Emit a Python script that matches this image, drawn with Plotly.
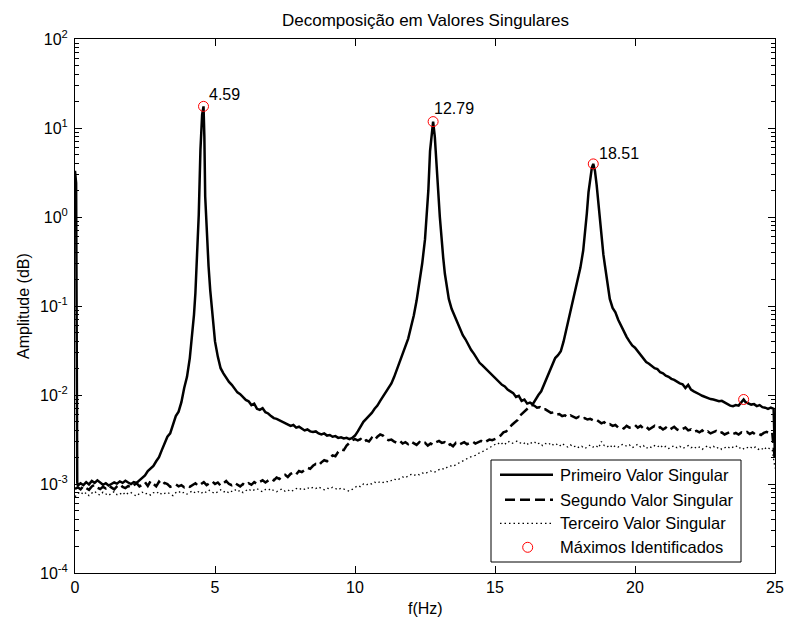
import math
import plotly.graph_objects as go

# ---------------- data ----------------
# Primeiro valor singular (solid)
f1 = [0.0, 0.04, 0.08, 0.1, 0.2, 0.3, 0.4, 0.5, 0.6, 0.7, 0.8, 0.9, 1.0, 1.1, 1.2, 1.3, 1.4, 1.5,
      1.6, 1.7, 1.8, 1.9, 2.0, 2.1, 2.2, 2.3, 2.4, 2.5, 2.6, 2.7, 2.8, 2.9, 3.0, 3.1, 3.2, 3.3,
      3.4, 3.5, 3.6, 3.7, 3.8, 3.9, 4.0, 4.1, 4.15, 4.2, 4.25, 4.3, 4.36, 4.42, 4.48, 4.54, 4.59,
      4.62, 4.65, 4.71, 4.77, 4.83, 4.9, 4.95, 5.0, 5.1, 5.2, 5.3, 5.4, 5.5, 5.6, 5.7, 5.8, 5.9,
      6.0, 6.1, 6.2, 6.3, 6.4, 6.5, 6.6, 6.7, 6.8, 6.9, 7.0, 7.1, 7.2, 7.3, 7.4, 7.5, 7.6, 7.7,
      7.8, 7.9, 8.0, 8.1, 8.2, 8.3, 8.4, 8.5, 8.6, 8.7, 8.8, 8.9, 9.0, 9.1, 9.2, 9.3, 9.4, 9.5,
      9.6, 9.7, 9.8, 9.9, 10.0, 10.1, 10.2, 10.3, 10.4, 10.5, 10.6, 10.7, 10.8, 10.9, 11.0, 11.1,
      11.2, 11.3, 11.4, 11.5, 11.6, 11.7, 11.8, 11.9, 12.0, 12.1, 12.2, 12.3, 12.4, 12.5, 12.56,
      12.62, 12.68, 12.73, 12.79, 12.85, 12.91, 12.97, 13.03, 13.09, 13.15, 13.21, 13.27, 13.35,
      13.45, 13.55, 13.65, 13.75, 13.85, 13.95, 14.05, 14.15, 14.25, 14.35, 14.45, 14.55, 14.65,
      14.75, 14.85, 14.95, 15.05, 15.15, 15.25, 15.35, 15.45, 15.55, 15.65, 15.75, 15.85, 15.95,
      16.05, 16.15, 16.25, 16.35, 16.45, 16.55, 16.65, 16.75, 16.85, 16.95, 17.05, 17.15, 17.25,
      17.35, 17.45, 17.55, 17.65, 17.75, 17.85, 17.95, 18.05, 18.15, 18.22, 18.28, 18.34, 18.4,
      18.46, 18.51, 18.57, 18.63, 18.69, 18.75, 18.81, 18.87, 18.93, 19.0, 19.1, 19.2, 19.3,
      19.4, 19.5, 19.6, 19.7, 19.8, 19.9, 20.0, 20.1, 20.2, 20.3, 20.4, 20.5, 20.6, 20.7, 20.8,
      20.9, 21.0, 21.1, 21.2, 21.3, 21.4, 21.5, 21.6, 21.7, 21.8, 21.9, 22.0, 22.1, 22.2, 22.3,
      22.4, 22.5, 22.6, 22.7, 22.8, 22.9, 23.0, 23.1, 23.2, 23.3, 23.4, 23.5, 23.6, 23.7, 23.8,
      23.88, 23.95, 24.05, 24.15, 24.25, 24.35, 24.45, 24.55, 24.65, 24.75, 24.85, 24.95, 25.0]
sv1 = [3.3, 2.4, 1.05e-3, 9.6e-4, 1.02e-3, 9.7e-4, 1.05e-3, 9.9e-4, 1.08e-3, 1.03e-3, 1.1e-3,
       1.04e-3, 9.8e-4, 1.02e-3, 9.6e-4, 1.0e-3, 1.04e-3, 1.01e-3, 1.07e-3, 1.03e-3, 1.09e-3,
       1.04e-3, 1.0e-3, 1.05e-3, 1.03e-3, 1.1e-3, 1.17e-3, 1.25e-3, 1.4e-3, 1.5e-3, 1.6e-3,
       1.8e-3, 2.0e-3, 2.4e-3, 2.9e-3, 3.4e-3, 3.7e-3, 4.6e-3, 5.8e-3, 6.5e-3, 8.3e-3, 1.2e-2,
       1.6e-2, 2.6e-2, 3.6e-2, 5.2e-2, 8.0e-2, 1.4e-1, 3.3e-1, 1.06, 5.7, 14.0, 17.5,
       8.0, 1.7, 6.5e-1, 2.8e-1, 1.5e-1, 8.0e-2, 5.5e-2, 4.0e-2, 2.7e-2, 2.0e-2, 1.75e-2,
       1.55e-2, 1.4e-2, 1.3e-2, 1.18e-2, 1.07e-2, 1.02e-2, 9.4e-3, 8.8e-3, 8.5e-3, 7.7e-3,
       8.0e-3, 7.0e-3, 6.8e-3, 7.1e-3, 6.4e-3, 6.2e-3, 5.8e-3, 5.5e-3, 5.4e-3, 5.2e-3, 5.0e-3,
       4.8e-3, 4.7e-3, 4.5e-3, 4.6e-3, 4.3e-3, 4.4e-3, 4.2e-3, 4.0e-3, 4.1e-3, 3.9e-3, 3.85e-3,
       3.9e-3, 3.7e-3, 3.6e-3, 3.7e-3, 3.5e-3, 3.55e-3, 3.4e-3, 3.45e-3, 3.3e-3, 3.35e-3,
       3.25e-3, 3.3e-3, 3.2e-3, 3.3e-3, 3.5e-3, 3.9e-3, 4.4e-3, 5.0e-3, 5.4e-3, 5.8e-3, 6.3e-3,
       7.0e-3, 7.6e-3, 8.6e-3, 9.6e-3, 1.08e-2, 1.2e-2, 1.35e-2, 1.6e-2, 1.95e-2, 2.4e-2,
       2.9e-2, 3.5e-2, 4.3e-2, 5.8e-2, 7.8e-2, 1.15e-1, 1.8e-1, 3.0e-1, 5.6e-1, 1.1,
       2.0, 5.5, 8.5, 11.8, 8.0, 4.5, 2.0, 1.0, 5.6e-1, 3.5e-1, 2.3e-1, 1.65e-1, 1.2e-1,
       9.3e-2, 7.8e-2, 6.4e-2, 5.4e-2, 4.7e-2, 4.2e-2, 3.6e-2, 3.2e-2, 2.9e-2, 2.6e-2, 2.3e-2,
       2.15e-2, 2.0e-2, 1.85e-2, 1.7e-2, 1.6e-2, 1.5e-2, 1.4e-2, 1.3e-2, 1.25e-2, 1.15e-2,
       1.1e-2, 1.05e-2, 9.5e-3, 9.8e-3, 8.6e-3, 8.9e-3, 8.0e-3, 8.2e-3, 7.9e-3, 9.0e-3,
       1.0e-2, 1.1e-2, 1.3e-2, 1.6e-2, 1.9e-2, 2.2e-2, 2.6e-2, 2.8e-2, 3.1e-2, 4.0e-2, 5.5e-2,
       7.4e-2, 1.0e-1, 1.35e-1, 1.9e-1, 2.7e-1, 4.2e-1, 6.5e-1, 1.1, 1.9, 2.8, 3.6, 3.95,
       3.3, 2.3, 1.4, 8.5e-1, 5.5e-1, 3.8e-1, 2.8e-1, 1.9e-1, 1.2e-1, 9.5e-2, 8.5e-2, 7.0e-2,
       6.0e-2, 5.2e-2, 4.5e-2, 4.0e-2, 3.6e-2, 3.4e-2, 3.1e-2, 2.8e-2, 2.6e-2, 2.35e-2,
       2.25e-2, 2.1e-2, 2.0e-2, 1.95e-2, 1.8e-2, 1.75e-2, 1.65e-2, 1.6e-2, 1.52e-2, 1.48e-2,
       1.4e-2, 1.35e-2, 1.32e-2, 1.2e-2, 1.3e-2, 1.15e-2, 1.1e-2, 1.05e-2, 1.02e-2, 9.8e-3,
       9.5e-3, 9.4e-3, 9.0e-3, 8.9e-3, 8.7e-3, 8.5e-3, 8.6e-3, 8.2e-3, 7.9e-3, 7.6e-3, 7.5e-3,
       7.7e-3, 7.6e-3, 8.2e-3, 8.9e-3, 8.3e-3, 8.1e-3, 7.8e-3, 7.9e-3, 7.5e-3, 7.7e-3, 7.3e-3,
       7.2e-3, 7.0e-3, 7.2e-3, 7.0e-3, 2.0e-3]

# frequency grid (0.1 Hz) for the 2nd and 3rd singular values
freq = [round(i * 0.1, 1) for i in range(251)]

sv2 = [8.8e-4, 9.2e-4, 8.7e-4, 9.5e-4, 9.0e-4, 8.6e-4, 9.4e-4, 9.8e-4, 9.1e-4, 8.8e-4,
       9.3e-4, 8.9e-4, 9.6e-4, 9.2e-4, 8.7e-4, 9.4e-4, 9.9e-4, 9.3e-4, 9.0e-4, 9.5e-4,
       9.1e-4, 9.7e-4, 1.02e-3, 9.4e-4, 9.8e-4, 1.05e-3, 9.5e-4, 1.08e-3, 1.0e-3, 9.4e-4,
       1.06e-3, 9.7e-4, 1.03e-3, 1.0e-3, 9.3e-4, 9.6e-4, 9.9e-4, 9.4e-4, 9.7e-4, 9.2e-4,
       9.6e-4, 9.3e-4, 9.8e-4, 1.02e-3, 9.5e-4, 1.0e-3, 1.05e-3, 9.7e-4, 1.02e-3, 1.07e-3,
       1.0e-3, 1.04e-3, 9.6e-4, 1.03e-3, 1.08e-3, 1.0e-3, 9.7e-4, 1.03e-3, 9.9e-4, 9.4e-4,
       1.0e-3, 9.6e-4, 1.02e-3, 9.8e-4, 1.05e-3, 1.0e-3, 1.06e-3, 1.1e-3, 1.04e-3, 1.09e-3,
       1.15e-3, 1.1e-3, 1.18e-3, 1.14e-3, 1.22e-3, 1.27e-3, 1.2e-3, 1.3e-3, 1.35e-3, 1.28e-3,
       1.4e-3, 1.36e-3, 1.45e-3, 1.52e-3, 1.48e-3, 1.6e-3, 1.68e-3, 1.62e-3, 1.75e-3, 1.85e-3,
       1.8e-3, 1.95e-3, 2.1e-3, 2.05e-3, 2.3e-3, 2.45e-3, 2.4e-3, 2.7e-3, 2.9e-3, 3.1e-3,
       3.2e-3, 3.1e-3, 3.2e-3, 2.95e-3, 3.1e-3, 3.0e-3, 3.3e-3, 3.1e-3, 3.4e-3, 3.6e-3,
       3.5e-3, 3.2e-3, 3.1e-3, 3.15e-3, 3.0e-3, 2.9e-3, 3.05e-3, 2.85e-3, 2.95e-3, 2.8e-3,
       3.0e-3, 2.9e-3, 2.75e-3, 2.95e-3, 2.8e-3, 2.9e-3, 2.7e-3, 2.85e-3, 2.75e-3, 2.95e-3,
       3.05e-3, 2.9e-3, 2.95e-3, 2.7e-3, 2.8e-3, 2.65e-3, 2.9e-3, 2.75e-3, 2.85e-3, 2.95e-3,
       2.8e-3, 2.9e-3, 3.0e-3, 2.85e-3, 2.95e-3, 3.05e-3, 2.9e-3, 3.0e-3, 3.15e-3, 3.1e-3,
       3.2e-3, 3.3e-3, 3.5e-3, 3.8e-3, 3.9e-3, 4.3e-3, 4.6e-3, 4.9e-3, 5.2e-3, 5.9e-3,
       6.3e-3, 6.8e-3, 7.3e-3, 7.7e-3, 7.6e-3, 7.2e-3, 7.3e-3, 6.8e-3, 6.9e-3, 6.6e-3,
       6.3e-3, 6.4e-3, 6.0e-3, 6.1e-3, 5.8e-3, 5.9e-3, 5.6e-3, 5.9e-3, 5.7e-3, 5.5e-3,
       5.7e-3, 5.4e-3, 5.5e-3, 5.3e-3, 5.4e-3, 5.2e-3, 5.35e-3, 5.1e-3, 4.8e-3, 4.95e-3,
       4.6e-3, 4.7e-3, 4.5e-3, 4.6e-3, 4.3e-3, 4.4e-3, 4.2e-3, 4.5e-3, 4.3e-3, 4.4e-3,
       4.6e-3, 4.3e-3, 4.5e-3, 4.2e-3, 4.4e-3, 4.1e-3, 4.3e-3, 4.5e-3, 4.2e-3, 4.35e-3,
       4.1e-3, 4.3e-3, 4.0e-3, 4.2e-3, 4.4e-3, 4.1e-3, 3.95e-3, 4.15e-3, 4.3e-3, 4.0e-3,
       4.1e-3, 3.85e-3, 3.95e-3, 3.8e-3, 4.0e-3, 3.75e-3, 3.9e-3, 3.7e-3, 3.85e-3, 3.95e-3,
       3.7e-3, 3.8e-3, 3.6e-3, 3.75e-3, 3.85e-3, 3.65e-3, 3.75e-3, 3.6e-3, 3.8e-3, 3.7e-3,
       3.85e-3, 3.65e-3, 3.8e-3, 3.6e-3, 3.7e-3, 3.55e-3, 3.75e-3, 3.85e-3, 3.7e-3, 3.8e-3,
       1.8e-3]

sv3 = [7.2e-4, 7.8e-4, 8.2e-4, 7.6e-4, 8.0e-4, 7.4e-4, 7.9e-4, 8.3e-4, 7.7e-4, 7.5e-4,
       8.1e-4, 7.8e-4, 7.4e-4, 7.9e-4, 8.2e-4, 7.6e-4, 7.9e-4, 7.5e-4, 8.1e-4, 7.7e-4,
       8.0e-4, 7.6e-4, 7.3e-4, 7.8e-4, 8.1e-4, 7.7e-4, 7.9e-4, 7.5e-4, 8.0e-4, 7.8e-4,
       8.2e-4, 7.6e-4, 7.9e-4, 8.1e-4, 7.7e-4, 7.4e-4, 8.0e-4, 8.3e-4, 7.8e-4, 8.1e-4,
       7.7e-4, 8.0e-4, 8.4e-4, 7.9e-4, 8.2e-4, 7.8e-4, 8.3e-4, 8.0e-4, 8.5e-4, 8.1e-4,
       7.8e-4, 8.2e-4, 8.6e-4, 8.1e-4, 8.4e-4, 7.9e-4, 8.3e-4, 8.7e-4, 8.2e-4, 8.5e-4,
       8.0e-4, 8.4e-4, 8.8e-4, 8.3e-4, 8.6e-4, 8.9e-4, 8.4e-4, 8.2e-4, 8.7e-4, 8.5e-4,
       8.9e-4, 8.4e-4, 8.2e-4, 8.6e-4, 8.8e-4, 8.3e-4, 8.6e-4, 8.2e-4, 8.5e-4, 8.9e-4,
       8.6e-4, 9.0e-4, 8.7e-4, 9.1e-4, 8.8e-4, 9.2e-4, 8.9e-4, 9.3e-4, 8.9e-4, 8.6e-4,
       9.0e-4, 8.8e-4, 9.2e-4, 8.9e-4, 8.6e-4, 9.0e-4, 8.7e-4, 8.5e-4, 8.3e-4, 8.7e-4,
       9.2e-4, 9.6e-4, 9.3e-4, 1.0e-3, 9.7e-4, 1.02e-3, 1.0e-3, 1.05e-3, 1.02e-3, 1.07e-3,
       1.04e-3, 1.08e-3, 1.05e-3, 1.1e-3, 1.14e-3, 1.1e-3, 1.16e-3, 1.2e-3, 1.17e-3, 1.24e-3,
       1.28e-3, 1.24e-3, 1.3e-3, 1.27e-3, 1.33e-3, 1.3e-3, 1.36e-3, 1.4e-3, 1.35e-3, 1.38e-3,
       1.45e-3, 1.5e-3, 1.46e-3, 1.55e-3, 1.6e-3, 1.57e-3, 1.65e-3, 1.72e-3, 1.8e-3, 1.85e-3,
       1.92e-3, 2.0e-3, 2.05e-3, 2.1e-3, 2.2e-3, 2.3e-3, 2.35e-3, 2.45e-3, 2.55e-3, 2.65e-3,
       2.8e-3, 2.9e-3, 2.75e-3, 2.95e-3, 2.8e-3, 3.0e-3, 2.85e-3, 2.95e-3, 3.05e-3, 2.9e-3,
       2.8e-3, 2.95e-3, 2.75e-3, 2.9e-3, 3.0e-3, 2.8e-3, 2.9e-3, 2.7e-3, 2.85e-3, 2.75e-3,
       2.9e-3, 2.7e-3, 2.8e-3, 2.65e-3, 2.85e-3, 2.7e-3, 2.6e-3, 2.75e-3, 2.6e-3, 2.7e-3,
       2.55e-3, 2.65e-3, 2.5e-3, 2.6e-3, 2.75e-3, 2.6e-3, 2.7e-3, 2.55e-3, 3.0e-3, 2.7e-3,
       2.6e-3, 2.75e-3, 2.55e-3, 2.7e-3, 2.6e-3, 2.75e-3, 2.8e-3, 2.65e-3, 2.75e-3, 2.55e-3,
       2.65e-3, 2.8e-3, 2.6e-3, 2.7e-3, 2.5e-3, 2.65e-3, 2.55e-3, 2.7e-3, 2.6e-3, 2.75e-3,
       2.55e-3, 2.65e-3, 2.5e-3, 2.6e-3, 2.7e-3, 2.55e-3, 2.65e-3, 2.5e-3, 2.6e-3, 2.7e-3,
       2.55e-3, 2.65e-3, 2.5e-3, 2.6e-3, 2.45e-3, 2.6e-3, 2.7e-3, 2.55e-3, 2.65e-3, 2.5e-3,
       2.6e-3, 2.45e-3, 2.55e-3, 2.65e-3, 2.5e-3, 2.6e-3, 2.7e-3, 2.5e-3, 2.6e-3, 2.45e-3,
       2.55e-3, 2.65e-3, 2.5e-3, 2.6e-3, 2.45e-3, 2.55e-3, 2.4e-3, 2.6e-3, 2.5e-3, 2.45e-3,
       1.5e-3]

# identified maxima
peak_f = [4.59, 12.79, 18.51, 23.88]
peak_a = [17.5, 11.8, 3.95, 8.9e-3]
peak_labels = ["4.59", "12.79", "18.51", ""]

series_names = ["Primeiro Valor Singular", "Segundo Valor Singular",
                "Terceiro Valor Singular", "Máximos Identificados"]

y_tickvals = [1e-4, 1e-3, 1e-2, 1e-1, 1e0, 1e1, 1e2]
y_ticktext = ["10<sup>-4</sup>", "10<sup>-3</sup>", "10<sup>-2</sup>", "10<sup>-1</sup>",
              "10<sup>0</sup>", "10<sup>1</sup>", "10<sup>2</sup>"]
x_tickvals = [0, 5, 10, 15, 20, 25]

# ---------------- figure ----------------
FONT = "Liberation Sans, Arial, Helvetica, sans-serif"
W, H = 787, 620
ML, MR, MT, MB = 75, 12, 39, 47
PW, PH = W - ML - MR, H - MT - MB

styles = [dict(color="black", width=2.5),
          dict(color="black", width=2.5, dash="10px,5px"),
          dict(color="black", width=1.3, dash="1.5px,3px")]

fig = go.Figure()
for xs, ys, nm, st in zip([f1, freq, freq], [sv1, sv2, sv3], series_names[:3], styles):
    fig.add_trace(go.Scatter(x=xs, y=ys, mode="lines", name=nm, line=st, showlegend=False))
fig.add_trace(go.Scatter(x=peak_f, y=peak_a, mode="markers", name=series_names[3],
                         showlegend=False,
                         marker=dict(symbol="circle-open", size=10, color="red",
                                     line=dict(color="red", width=1))))

minor_vals = [m * 10 ** e for e in range(-4, 2) for m in range(2, 10)]

fig.update_layout(
    width=W, height=H,
    margin=dict(l=ML, r=MR, t=MT, b=MB, autoexpand=False),
    paper_bgcolor="white", plot_bgcolor="white",
    font=dict(family=FONT, size=16, color="black"),
    showlegend=False,
)

# peak labels
label_shift = {"4.59": (3, 12), "12.79": (-1, 13), "18.51": (4, 10)}
for xf, ya, lab in zip(peak_f, peak_a, peak_labels):
    if not lab:
        continue
    dx, dy = label_shift[lab]
    fig.add_annotation(x=xf, y=math.log10(ya), xref="x", yref="y", text=lab,
                       showarrow=False, xanchor="left", yanchor="middle",
                       xshift=dx, yshift=dy, font=dict(family=FONT, size=16, color="black"))

# titles
fig.add_annotation(text="Decomposição em Valores Singulares", xref="paper", yref="paper",
                   x=0.5, y=1.0, yanchor="middle", yshift=19, showarrow=False,
                   font=dict(family=FONT, size=17, color="black"))
fig.add_annotation(text="f(Hz)", xref="paper", yref="paper", x=0.5, y=0, yanchor="middle",
                   yshift=-35, showarrow=False, font=dict(family=FONT, size=16, color="black"))
fig.add_annotation(text="Amplitude (dB)", xref="paper", yref="paper", x=0, y=0.5,
                   xanchor="center", yanchor="middle", xshift=-52, textangle=-90,
                   showarrow=False, font=dict(family=FONT, size=16, color="black"))

# legend box (drawn in pixel layout converted to paper fractions)
def px_x(p):
    return (p - ML) / PW

def px_y(p):
    return (H - MB - p) / PH

fig.add_shape(type="rect", xref="paper", yref="paper", x0=px_x(491), x1=px_x(741),
              y0=px_y(562), y1=px_y(460), fillcolor="white",
              line=dict(color="black", width=1), layer="above")
row_y = [474.7, 499.7, 523.3, 547.3]
sample_x0 = [500, 505, 500]
for i in range(3):
    fig.add_shape(type="line", xref="paper", yref="paper", x0=px_x(sample_x0[i]),
                  x1=px_x(553), y0=px_y(row_y[i]), y1=px_y(row_y[i]),
                  line=styles[i], layer="above")
fig.add_shape(type="circle", xref="paper", yref="paper", x0=px_x(522.7), x1=px_x(532.7),
              y0=px_y(row_y[3] + 5), y1=px_y(row_y[3] - 5),
              line=dict(color="red", width=1), layer="above")
for nm, ry in zip(series_names, row_y):
    fig.add_annotation(text=nm, xref="paper", yref="paper", x=px_x(558), y=px_y(ry),
                       xanchor="left", yanchor="middle", showarrow=False,
                       font=dict(family=FONT, size=16.5, color="black"))

fig.update_xaxes(range=[0, 25], tickvals=x_tickvals, ticks="inside", ticklen=7,
                 tickcolor="black", showline=True, linecolor="black", linewidth=1,
                 mirror="allticks", showgrid=False, zeroline=False, automargin=False,
                 tickfont=dict(family=FONT, size=16, color="black"))
fig.update_yaxes(type="log", range=[-4, 2], tickvals=y_tickvals, ticktext=y_ticktext,
                 ticks="inside", ticklen=7, tickcolor="black", showline=True,
                 linecolor="black", linewidth=1, mirror="allticks", showgrid=False,
                 zeroline=False, automargin=False, ticklabelstandoff=3,
                 tickfont=dict(family=FONT, size=16, color="black"),
                 minor=dict(tickvals=minor_vals, ticks="inside", ticklen=4,
                            tickcolor="black", showgrid=False))

fig.write_html("out.html")
